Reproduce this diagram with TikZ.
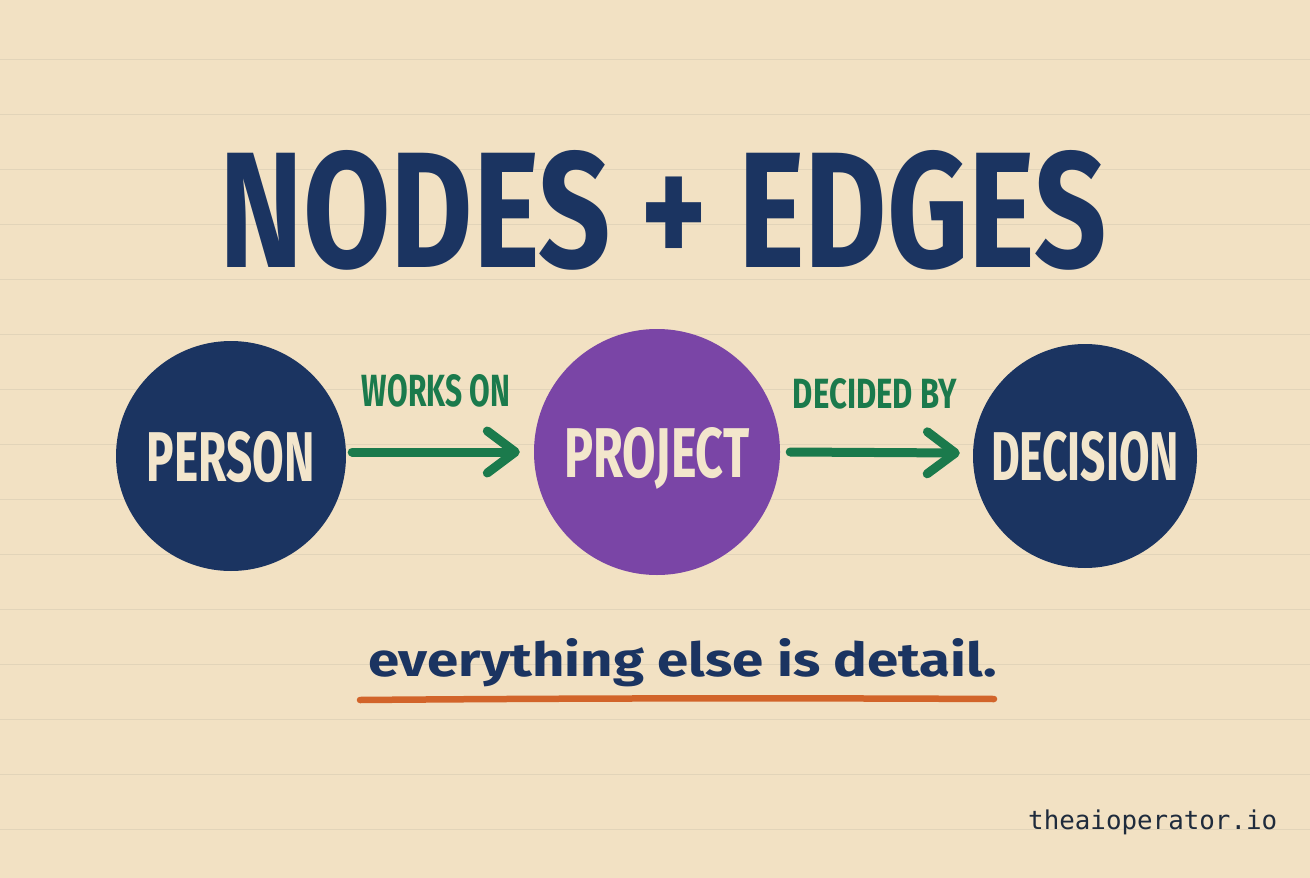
\documentclass[tikz,border=0pt]{standalone}
\usepackage{fontspec}
\usepackage{graphicx}
\setmainfont{Fira Sans}
\newfontfamily\monofont{DejaVu Sans Mono}
\usetikzlibrary{arrows.meta,calc}
\definecolor{bg}{HTML}{F2E1C3}
\definecolor{rulec}{HTML}{E2D4B9}
\definecolor{navy}{HTML}{1B3461}
\definecolor{purp}{HTML}{7A45A6}
\definecolor{grn}{HTML}{1B7A4C}
\definecolor{orng}{HTML}{D2642A}
\definecolor{cream}{HTML}{F3E6CC}
\definecolor{ink}{HTML}{1F2B3C}
\tikzset{
  rule/.style={rulec, line width=1pt},
  bubble/.style={circle, inner sep=0pt, text=cream, font=\bfseries, text depth=0pt},
  link/.style={grn, line width=9pt, line cap=round,
    -{Straight Barb[length=28pt, width=42pt, round]}},
  linklabel/.style={inner sep=0pt, text=grn, font=\bfseries},
  txt/.style={inner sep=0pt, anchor=base west}
}
\begin{document}
\begin{tikzpicture}[x=1pt,y=-1pt]
\fill[bg] (0,0) rectangle (1310,878);
\useasboundingbox (0,0) rectangle (1310,878);
\foreach \k in {0,...,14} \draw[rule] (0,{59+55*\k}) -- (1310,{59+55*\k});

\node[txt, text=navy, font=\bfseries] (title) at (219,267) {\resizebox{887pt}{117pt}{NODES + EDGES}};

\node[bubble, fill=navy, minimum size=230pt] (person) at (231,456) {\resizebox{168pt}{50pt}{PERSON}};
\node[bubble, fill=purp, minimum size=246pt] (project) at (657,452) {\resizebox{185pt}{50pt}{PROJECT}};
\node[bubble, fill=navy, minimum size=224pt] (decision) at (1085,456) {\resizebox{188pt}{49pt}{DECISION}};

\draw[link] ($(person.east)+(6,-4)$) -- ($(project.west)+(-14,0)$)
  node[midway, above=40pt, linklabel] (worksOn) {\resizebox{148pt}{32pt}{WORKS ON}};
\draw[link] ($(project.east)+(10,0)$) -- ($(decision.west)+(-13,-3)$)
  node[midway, above=39pt, linklabel] (decidedBy) {\resizebox{164pt}{30pt}{DECIDED BY}};

\node[txt, text=navy, font=\bfseries] (sub) at (368,676) {\resizebox{629pt}{38pt}{everything else is detail.}};
\draw[orng, line width=6.5pt, line cap=round] (360,700) .. controls (600,698) and (800,698) .. (994,699);

\node[txt, text=ink, font=\monofont] (url) at (1028,829) {\resizebox{249pt}{!}{theaioperator.io}};
\end{tikzpicture}
\end{document}
